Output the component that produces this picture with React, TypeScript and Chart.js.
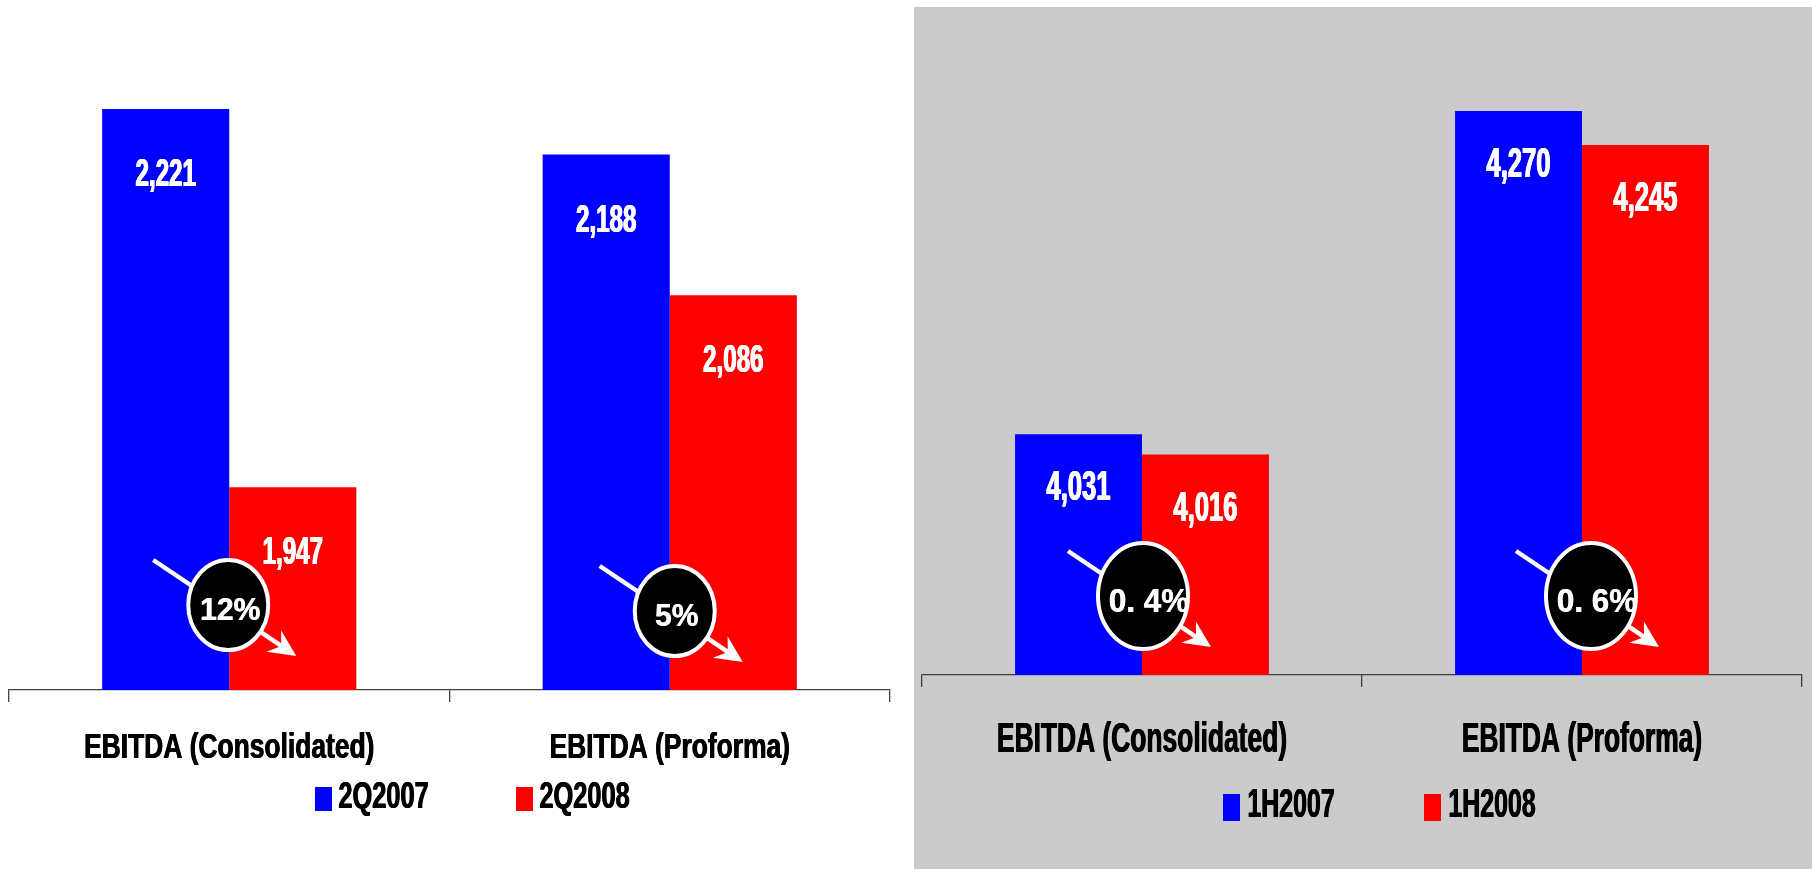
import React, { useEffect, useRef } from "react";
import { Chart, registerables } from "chart.js";

Chart.register(...registerables);

// ---------- data ----------
const categories = ["EBITDA (Consolidated)", "EBITDA (Proforma)"];

const quarterSeriesNames = ["2Q2007", "2Q2008"];
const quarter2007 = [2221, 2188];
const quarter2008 = [1947, 2086];
const quarterChange = ["12%", "5%"];
const quarterAxisRange = [1800, 2300];

const halfSeriesNames = ["1H2007", "1H2008"];
const half2007 = [4031, 4270];
const half2008 = [4016, 4245];
const halfChange = ["0. 4%", "0. 6%"];
const halfAxisRange = [3853, 4347];

// ---------- styles ----------
const BLUE = "#0000ff";
const RED = "#ff0000";
const GREY_BG = "#cbcbcb";
const AXIS = "#404040";
const SANS = '"Liberation Sans", Arial, sans-serif';

type PanelStyle = {
  pageLeft: number;
  pageTop: number;
  width: number;
  height: number;
  background: string;
  padLeft: number;
  padRight: number;
  plotBottom: number;
  axisHeight: number;
  catSize: number;
  catScale: number;
  catBaselineDrop: number;
  valueSize: number;
  valueScale: number;
  valueBaselineOffset: number;
  badgeDx: number[];
  badgeRise: number[];
  rx: number;
  ry: number;
  pctSize: number;
  pctScale: number;
  pctDx: number;
  legendBoxX: number[];
  legendBoxY: number;
  legendBoxW: number;
  legendBoxH: number;
  legendTextX: number[];
  legendBaseline: number;
  legendSize: number;
  legendScale: number;
};

const leftStyle: PanelStyle = {
  pageLeft: 0,
  pageTop: 0,
  width: 914,
  height: 869,
  background: "#ffffff",
  padLeft: 9,
  padRight: 24,
  plotBottom: 690,
  axisHeight: 120,
  catSize: 35,
  catScale: 0.754,
  catBaselineDrop: 68,
  valueSize: 38,
  valueScale: 0.635,
  valueBaselineOffset: 77,
  badgeDx: [-1, 5],
  badgeRise: [85, 79],
  rx: 40,
  ry: 45,
  pctSize: 32,
  pctScale: 0.94,
  pctDx: 2,
  legendBoxX: [315, 516],
  legendBoxY: 787,
  legendBoxW: 17,
  legendBoxH: 24,
  legendTextX: [338, 539],
  legendBaseline: 808,
  legendSize: 36,
  legendScale: 0.705,
};

const rightStyle: PanelStyle = {
  pageLeft: 914,
  pageTop: 7,
  width: 898,
  height: 862,
  background: GREY_BG,
  padLeft: 8,
  padRight: 10,
  plotBottom: 668,
  axisHeight: 120,
  catSize: 42,
  catScale: 0.628,
  catBaselineDrop: 77,
  valueSize: 43,
  valueScale: 0.595,
  valueBaselineOffset: 66,
  badgeDx: [1, 9],
  badgeRise: [79, 79],
  rx: 45,
  ry: 53,
  pctSize: 33,
  pctScale: 0.95,
  pctDx: 6,
  legendBoxX: [309, 510],
  legendBoxY: 787,
  legendBoxW: 17,
  legendBoxH: 27,
  legendTextX: [333, 534],
  legendBaseline: 810,
  legendSize: 40.5,
  legendScale: 0.615,
};

// Draws bold text compressed horizontally; "thicken" widens the strokes
// horizontally (in px) to imitate a heavy narrow typeface.
function scaledText(
  ctx: CanvasRenderingContext2D,
  text: string,
  x: number,
  y: number,
  size: number,
  sx: number,
  color: string,
  align: CanvasTextAlign,
  thicken = 0
) {
  const steps = Math.max(1, Math.round(thicken / 0.4) + 1);
  for (let k = 0; k < steps; k++) {
    const off = steps === 1 ? 0 : -thicken / 2 + (thicken * k) / (steps - 1);
    ctx.save();
    ctx.translate(x + off + (align === "left" ? thicken / 2 : 0), y);
    ctx.scale(sx, 1);
    ctx.font = `bold ${size}px ${SANS}`;
    ctx.fillStyle = color;
    ctx.textAlign = align;
    ctx.textBaseline = "alphabetic";
    ctx.fillText(text, 0, 0);
    ctx.restore();
  }
}

function drawBadge(
  ctx: CanvasRenderingContext2D,
  cx: number,
  cy: number,
  s: PanelStyle,
  text: string
) {
  const sx = cx - 75;
  const sy = cy - 45;
  const tx = cx + 68;
  const ty = cy + 51;
  const dx = tx - sx;
  const dy = ty - sy;
  const len = Math.hypot(dx, dy);
  const ux = dx / len;
  const uy = dy / len;
  const nx = -uy;
  const ny = ux;
  const headLen = 27;
  const headHalf = 13;
  const notch = 18;
  ctx.save();
  ctx.strokeStyle = "#ffffff";
  ctx.fillStyle = "#ffffff";
  ctx.lineWidth = 4.5;
  ctx.beginPath();
  ctx.moveTo(sx, sy);
  ctx.lineTo(tx - ux * notch, ty - uy * notch);
  ctx.stroke();
  ctx.beginPath();
  ctx.moveTo(tx, ty);
  ctx.lineTo(tx - ux * headLen + nx * headHalf, ty - uy * headLen + ny * headHalf);
  ctx.lineTo(tx - ux * notch, ty - uy * notch);
  ctx.lineTo(tx - ux * headLen - nx * headHalf, ty - uy * headLen - ny * headHalf);
  ctx.closePath();
  ctx.fill();

  ctx.beginPath();
  ctx.ellipse(cx, cy, s.rx, s.ry, 0, 0, Math.PI * 2);
  ctx.fillStyle = "#000000";
  ctx.fill();
  ctx.lineWidth = 4;
  ctx.strokeStyle = "#ffffff";
  ctx.stroke();
  ctx.restore();

  scaledText(ctx, text, cx + s.pctDx, cy + 4 + 0.358 * s.pctSize, s.pctSize, s.pctScale, "#ffffff", "center", 0.6);
}

function makeOverlay(s: PanelStyle, changes: string[]) {
  return {
    id: "overlay",
    afterDatasetsDraw(chart: any) {
      const ctx: CanvasRenderingContext2D = chart.ctx;
      // value labels inside the bars
      chart.data.datasets.forEach((ds: any, di: number) => {
        const meta = chart.getDatasetMeta(di);
        meta.data.forEach((bar: any, i: number) => {
          const v = ds.data[i] as number;
          scaledText(ctx, v.toLocaleString("en-US"), bar.x, bar.y + s.valueBaselineOffset, s.valueSize, s.valueScale, "#ffffff", "center", 1);
        });
      });
      // change badges
      const xs = chart.scales.x;
      const base = chart.chartArea.bottom;
      changes.forEach((label, i) => {
        const cx = xs.getPixelForValue(i) + s.badgeDx[i];
        const cy = base - s.badgeRise[i];
        drawBadge(ctx, cx, cy, s, label);
      });
    },
    afterDraw(chart: any) {
      const ctx: CanvasRenderingContext2D = chart.ctx;
      const xs = chart.scales.x;
      // category labels on the x axis
      (chart.data.labels as string[]).forEach((lab, i) => {
        scaledText(ctx, lab, xs.getPixelForValue(i), chart.chartArea.bottom + s.catBaselineDrop, s.catSize, s.catScale, "#000000", "center", 0.8);
      });
      // legend
      chart.data.datasets.forEach((ds: any, di: number) => {
        ctx.save();
        ctx.fillStyle = ds.backgroundColor;
        ctx.fillRect(s.legendBoxX[di], s.legendBoxY, s.legendBoxW, s.legendBoxH);
        ctx.restore();
        scaledText(ctx, ds.label, s.legendTextX[di], s.legendBaseline, s.legendSize, s.legendScale, "#000000", "left", 0.8);
      });
    },
  };
}

type PanelProps = {
  s: PanelStyle;
  names: string[];
  first: number[];
  second: number[];
  changes: string[];
  range: number[];
};

function Panel({ s, names, first, second, changes, range }: PanelProps) {
  const ref = useRef<HTMLCanvasElement>(null);
  useEffect(() => {
    const canvas = ref.current;
    if (!canvas) return;
    const chart = new Chart(canvas, {
      type: "bar",
      data: {
        labels: categories,
        datasets: [
          {
            label: names[0],
            data: first,
            backgroundColor: BLUE,
            borderWidth: 0,
            categoryPercentage: 0.577,
            barPercentage: 1,
          },
          {
            label: names[1],
            data: second,
            backgroundColor: RED,
            borderWidth: 0,
            categoryPercentage: 0.577,
            barPercentage: 1,
          },
        ],
      },
      options: {
        responsive: false,
        animation: false,
        layout: {
          padding: {
            left: s.padLeft,
            right: s.padRight,
            top: 0,
            bottom: s.height - s.plotBottom - s.axisHeight,
          },
        },
        plugins: {
          legend: { display: false },
          tooltip: { enabled: false },
        },
        scales: {
          x: {
            grid: {
              display: true,
              drawOnChartArea: false,
              drawTicks: true,
              tickLength: 12,
              color: AXIS,
              lineWidth: 1.3,
              offset: true,
            },
            border: { display: true, color: AXIS, width: 1.3 },
            ticks: { display: false },
            afterFit: (sc: any) => {
              sc.height = s.axisHeight;
            },
          },
          y: {
            display: false,
            min: range[0],
            max: range[1],
          },
        },
      },
      plugins: [makeOverlay(s, changes)],
    } as any);
    return () => chart.destroy();
  }, []);
  return (
    <div
      style={{
        position: "absolute",
        left: s.pageLeft,
        top: s.pageTop,
        width: s.width,
        height: s.height,
        background: s.background,
      }}
    >
      <canvas
        ref={ref}
        width={s.width}
        height={s.height}
        style={{ display: "block", width: s.width, height: s.height }}
      />
    </div>
  );
}

export default function App() {
  useEffect(() => {
    document.body.style.margin = "0";
    document.body.style.overflow = "hidden";
    document.body.style.background = "#ffffff";
  }, []);
  return (
    <div style={{ position: "relative", width: 1812, height: 869, overflow: "hidden" }}>
      <Panel
        s={leftStyle}
        names={quarterSeriesNames}
        first={quarter2007}
        second={quarter2008}
        changes={quarterChange}
        range={quarterAxisRange}
      />
      <Panel
        s={rightStyle}
        names={halfSeriesNames}
        first={half2007}
        second={half2008}
        changes={halfChange}
        range={halfAxisRange}
      />
    </div>
  );
}
